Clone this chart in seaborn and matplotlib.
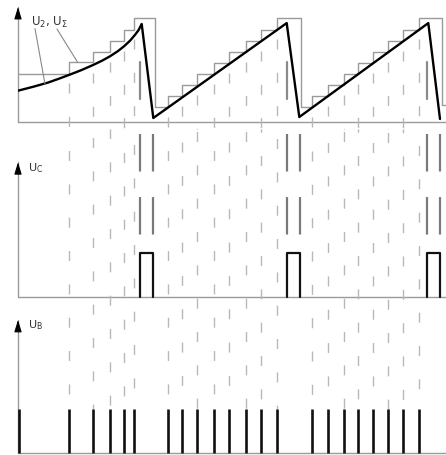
import numpy as np
import seaborn as sns
import matplotlib.pyplot as plt

sns.set_style('white')
plt.rcParams['font.family'] = ['DejaVu Sans']
plt.rcParams['lines.scale_dashes'] = False

# counter pulses U_B (time units), the first one sits on the axis
pulse_t = [0.1, 5.07, 7.53, 9.17, 10.6, 11.6,
           14.97, 16.37, 17.93, 19.63, 21.07, 22.83, 24.33, 25.9,
           29.4, 30.97, 32.57, 33.97, 35.53, 36.97, 38.53, 40.1]

# staircase U_sigma (counter output)
stair_t = [0, 5.07, 7.53, 9.17, 10.6, 11.6, 13.7,
           14.97, 16.37, 17.93, 19.63, 21.07, 22.83, 24.33, 25.9, 28.3,
           29.4, 30.97, 32.57, 33.97, 35.53, 36.97, 38.53, 40.1, 42.37, 42.8]
stair_v = [4.35, 5.4, 6.36, 7.35, 8.34, 9.4, 1.35,
           2.34, 3.36, 4.35, 5.34, 6.36, 7.35, 8.34, 9.4, 1.35,
           2.34, 3.36, 4.35, 5.34, 6.36, 7.35, 8.34, 9.4, 1.55, 1.55]

# sawtooth U_2: exponential first ramp, then linear ramps
saw_t = [0, 1.5, 3.0, 4.0, 5.13, 6.3, 7.47, 8.4, 9.2, 10.0, 10.6, 11.2, 11.7, 12.05, 12.37,
         13.53, 26.87, 28.13, 41.03, 42.2]
saw_v = [2.85, 3.2, 3.58, 3.9, 4.28, 4.69, 5.15, 5.55, 5.95, 6.42, 6.85, 7.35, 7.88, 8.3, 8.86,
         0.39, 8.94, 0.48, 8.94, 0.3]

# comparator pulses U_C
uc_on = [12.23, 26.93, 40.93]
uc_off = [13.53, 28.17, 42.23]

T_END = 42.8
GRAY = '#9a9a9a'
DASH = '#b8b8b8'
PX = 100 / 72.0   # px per point

fig = plt.figure(figsize=(4.46, 4.56), dpi=100)
x0 = 18 / 446
ax_u = fig.add_axes([x0, 326 / 456, 1 - x0, 130 / 456])
ax_c = fig.add_axes([x0, 156 / 456, 1 - x0, 170 / 456])
ax_b = fig.add_axes([x0, 0, 1 - x0, 156 / 456])
for ax in (ax_u, ax_c, ax_b):
    ax.set_xlim(0, T_END)
    ax.axis('off')
    ax.patch.set_alpha(0)
ax_u.set_ylim(-0.6, 11.11)
ax_c.set_ylim(-0.038, 3.8)
ax_b.set_ylim(-0.034, 3.47)

# axes with arrow heads
for ax, tip, lab in ((ax_u, 10.39, None), (ax_c, 3.05, 'U$_\\mathrm{C}$'), (ax_b, 3.0, 'U$_\\mathrm{B}$')):
    ax.axhline(0, color=GRAY, lw=1)
    ax.plot([0, 0], [0, tip], color=GRAY, lw=1, clip_on=False)
    h = (ax.get_ylim()[1] - ax.get_ylim()[0]) * 10 / (ax.bbox.height)
    ax.annotate('', xy=(0, tip), xytext=(0, tip - h), annotation_clip=False,
                arrowprops=dict(arrowstyle='-|>,head_length=0.72,head_width=0.22',
                                color='black', lw=0.8, shrinkA=0, shrinkB=0))
    if lab:
        ax.text(1.0, tip - 0.11 * (ax.get_ylim()[1] - ax.get_ylim()[0]) / 3.8, lab,
                fontsize=8, color='#333333', va='center', ha='left')

# top panel: staircase + sawtooth
sns.lineplot(x=stair_t, y=stair_v, ax=ax_u, drawstyle='steps-post', sort=False,
             estimator=None, color=GRAY, lw=1)
sns.lineplot(x=saw_t, y=saw_v, ax=ax_u, sort=False, estimator=None, color='black', lw=1.7)

# dashed guides in the top panel (from the stair step down)
pat = (7.2, 16.8)
for t in pulse_t[1:]:
    k = np.searchsorted(stair_t, t, side='right') - 1
    ax_u.plot([t, t], [stair_v[k], -0.6], color=DASH, lw=1,
              ls=(12.3 / PX, pat), clip_on=False)

# long dash at the comparator edges
for t in uc_on:
    ax_u.plot([t, t], [5.43, 2.1], color='#8a8a8a', lw=1.6)
for t in uc_on + uc_off:
    ax_c.plot([t, t], [3.69, 1.41], color='#7a7a7a', lw=1.6, ls=(0, (27, 18.4)))

# dashed guides through U_C and U_B panels
dash_top = [318, 305, 296, 320, 312, 318, 309.5, 299, 318, 309.5, 299,
            323, 306, 318.5, 310, 299, 323, 310, 300, 323.5, 313]
y_end = ax_c.transData.inverted().transform(ax_b.transData.transform((0, 1)))[1]
for t, yd in zip(pulse_t[1:], dash_top):
    off = (130 - yd) % 33.3
    ax_c.plot([t, t], [3.8, y_end], color=DASH, lw=1, ls=(off / PX, pat), clip_on=False)

# U_C rectangles
for s, e in zip(uc_on, uc_off):
    ax_c.plot([s, s, e, e], [0, 1, 1, 0], color='#111111', lw=1.6)

# U_B pulses
ax_b.vlines(pulse_t, 0, 1, color='#111111', lw=1.9)

# label with leaders
ax_u.text(1.3, 9.05, 'U$_2$, U$_\\Sigma$', fontsize=8.5, color='#333333', va='center', ha='left')
ax_u.plot([1.7, 2.7], [8.44, 3.45], color='#888888', lw=0.8)
ax_u.plot([3.9, 5.97], [8.4, 5.4], color='#888888', lw=0.8)

fig.savefig('out.png', dpi=100)
